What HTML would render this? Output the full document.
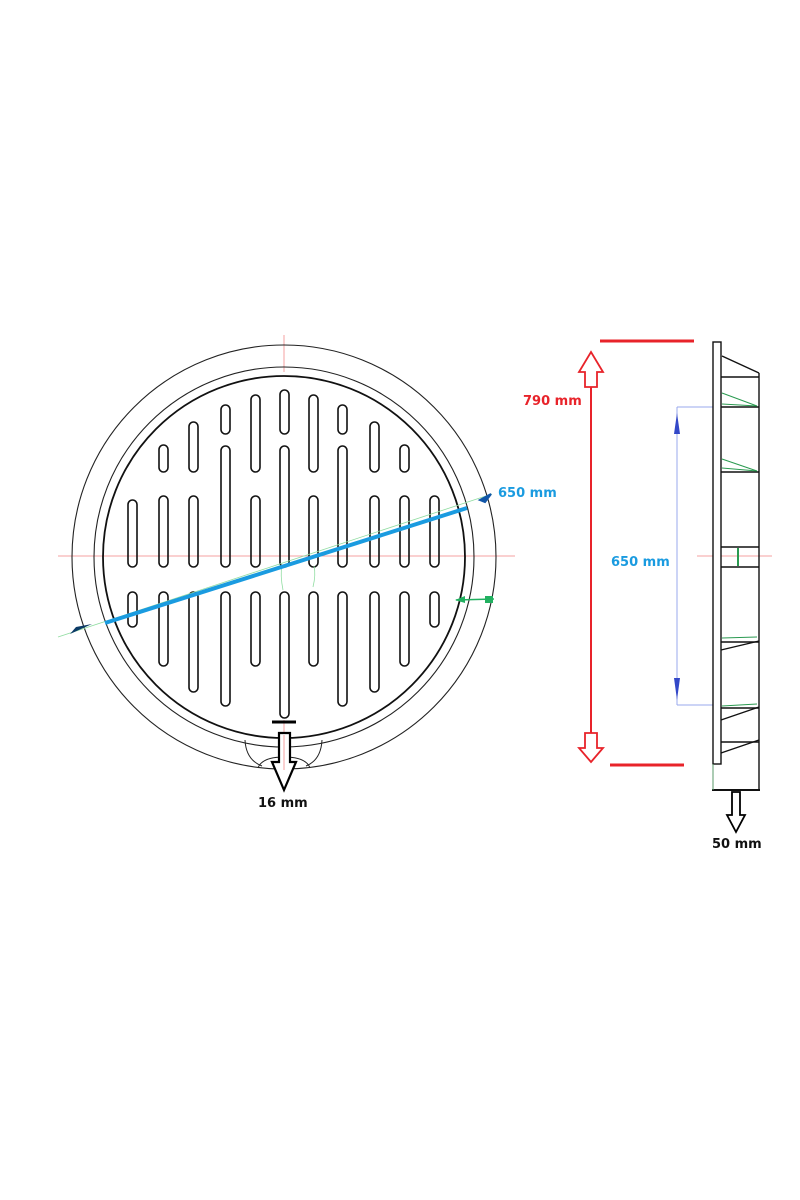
<!DOCTYPE html>
<html><head><meta charset="utf-8"><style>
html,body{margin:0;padding:0;background:#fff;}
svg{display:block;}
text{font-family:"DejaVu Sans","Liberation Sans",sans-serif;font-weight:bold;font-size:13px;}
</style></head><body>
<svg width="800" height="1200" viewBox="0 0 800 1200" xmlns="http://www.w3.org/2000/svg">
<!-- center lines -->
<line x1="58" y1="556" x2="515" y2="556" stroke="#f4a0a0" stroke-width="1"/>
<line x1="284" y1="335" x2="284" y2="372" stroke="#f4a0a0" stroke-width="1"/>
<line x1="284" y1="720" x2="284" y2="770" stroke="#f4a0a0" stroke-width="1"/>
<!-- circles -->
<circle cx="284" cy="557" r="212" fill="none" stroke="#222" stroke-width="1.1"/>
<circle cx="284" cy="557" r="190" fill="none" stroke="#222" stroke-width="1.1"/>
<circle cx="284" cy="557" r="181" fill="none" stroke="#111" stroke-width="1.8"/>
<!-- bottom notch -->
<path d="M245,740 Q246,760 262,766 M322,740 Q321,760 306,766" fill="none" stroke="#222" stroke-width="1"/>
<path d="M258,768 Q262,757 284,757 Q306,757 310,768" fill="none" stroke="#222" stroke-width="1"/>
<!-- slots -->
<g fill="none" stroke="#111" stroke-width="1.6">
<rect x="128" y="500" width="9" height="67" rx="4.5"/>
<rect x="128" y="592" width="9" height="35" rx="4.5"/>
<rect x="159" y="445" width="9" height="27" rx="4.5"/>
<rect x="159" y="496" width="9" height="71" rx="4.5"/>
<rect x="159" y="592" width="9" height="74" rx="4.5"/>
<rect x="189" y="422" width="9" height="50" rx="4.5"/>
<rect x="189" y="496" width="9" height="71" rx="4.5"/>
<rect x="189" y="592" width="9" height="100" rx="4.5"/>
<rect x="221" y="405" width="9" height="29" rx="4.5"/>
<rect x="221" y="446" width="9" height="121" rx="4.5"/>
<rect x="221" y="592" width="9" height="114" rx="4.5"/>
<rect x="251" y="395" width="9" height="77" rx="4.5"/>
<rect x="251" y="496" width="9" height="71" rx="4.5"/>
<rect x="251" y="592" width="9" height="74" rx="4.5"/>
<rect x="280" y="390" width="9" height="44" rx="4.5"/>
<rect x="280" y="446" width="9" height="121" rx="4.5"/>
<rect x="280" y="592" width="9" height="126" rx="4.5"/>
<rect x="309" y="395" width="9" height="77" rx="4.5"/>
<rect x="309" y="496" width="9" height="71" rx="4.5"/>
<rect x="309" y="592" width="9" height="74" rx="4.5"/>
<rect x="338" y="405" width="9" height="29" rx="4.5"/>
<rect x="338" y="446" width="9" height="121" rx="4.5"/>
<rect x="338" y="592" width="9" height="114" rx="4.5"/>
<rect x="370" y="422" width="9" height="50" rx="4.5"/>
<rect x="370" y="496" width="9" height="71" rx="4.5"/>
<rect x="370" y="592" width="9" height="100" rx="4.5"/>
<rect x="400" y="445" width="9" height="27" rx="4.5"/>
<rect x="400" y="496" width="9" height="71" rx="4.5"/>
<rect x="400" y="592" width="9" height="74" rx="4.5"/>
<rect x="430" y="496" width="9" height="71" rx="4.5"/>
<rect x="430" y="592" width="9" height="35" rx="4.5"/>
</g>
<!-- diameter dim -->
<line x1="58" y1="637" x2="492" y2="494" stroke="#8fdca0" stroke-width="0.8"/>
<path d="M283,590 Q280,575 282,565 M313,587 Q316,575 314,566" fill="none" stroke="#8fdca0" stroke-width="0.8"/>
<line x1="105" y1="623" x2="467" y2="508" stroke="#1a9be0" stroke-width="4"/>
<polygon points="70,634 92,624 76,627" fill="#0b3a66"/>
<polygon points="480,500 491,494 485,502" fill="#1156a8" stroke="#1156a8" stroke-width="2"/>
<text x="498" y="497" fill="#1a9be0">650 mm</text>
<!-- green small dim -->
<line x1="456" y1="600" x2="494" y2="599" stroke="#22b060" stroke-width="1.5"/>
<polygon points="455,600 465,596 465,603" fill="#22b060"/>
<rect x="485" y="596" width="8" height="7" fill="#22b060"/>
<!-- 16mm arrow -->
<line x1="272" y1="722" x2="296" y2="722" stroke="#000" stroke-width="3"/>
<polygon points="279,733 290,733 290,762 296,762 284,790 272,762 279,762" fill="#fff" stroke="#000" stroke-width="2.2"/>
<line x1="284" y1="735" x2="284" y2="770" stroke="#f4a0a0" stroke-width="1"/>
<text x="258" y="807" fill="#111">16 mm</text>

<!-- right side view -->
<line x1="600" y1="341" x2="694" y2="341" stroke="#e8232a" stroke-width="3"/>
<line x1="610" y1="765" x2="684" y2="765" stroke="#e8232a" stroke-width="3"/>
<line x1="591" y1="360" x2="591" y2="755" stroke="#e8232a" stroke-width="2"/>
<polygon points="591,352 603,372 597,372 597,387 585,387 585,372 579,372" fill="#fff" stroke="#e8232a" stroke-width="1.8"/>
<polygon points="591,762 603,748 597,748 597,733 585,733 585,748 579,748" fill="#fff" stroke="#e8232a" stroke-width="1.8"/>
<text x="523" y="405" fill="#e8232a">790 mm</text>
<!-- blue dim -->
<line x1="677" y1="407" x2="677" y2="705" stroke="#9aa8ec" stroke-width="1"/>
<line x1="677" y1="407" x2="713" y2="407" stroke="#9aa8ec" stroke-width="1"/>
<line x1="677" y1="705" x2="713" y2="705" stroke="#9aa8ec" stroke-width="1"/>
<polygon points="677,413 674,434 680,434" fill="#3348c8"/>
<polygon points="677,700 674,678 680,678" fill="#3348c8"/>
<text x="611" y="566" fill="#1a9be0">650 mm</text>
<line x1="697" y1="556" x2="772" y2="556" stroke="#f4a0a0" stroke-width="1"/>
<!-- body -->
<g stroke="#111" fill="none" stroke-width="1.4">
<rect x="713" y="342" width="8" height="422" fill="#fff"/>
<line x1="759" y1="373" x2="759" y2="790"/>
<line x1="722" y1="356" x2="759" y2="373"/>
<line x1="721" y1="377" x2="759" y2="377"/>
<line x1="721" y1="407" x2="759" y2="407"/>
<line x1="721" y1="472" x2="759" y2="472"/>
<line x1="721" y1="547" x2="759" y2="547"/>
<line x1="721" y1="567" x2="759" y2="567"/>
<line x1="721" y1="642" x2="759" y2="642"/>
<line x1="721" y1="708" x2="759" y2="708"/>
<line x1="721" y1="650" x2="759" y2="641"/>
<line x1="721" y1="720" x2="759" y2="707"/>
<line x1="721" y1="753" x2="759" y2="740"/>
<line x1="721" y1="742" x2="759" y2="742"/>
<line x1="712" y1="790" x2="760" y2="790" stroke-width="2"/>
</g>
<g stroke="#2a9a50" fill="none" stroke-width="1">
<line x1="722" y1="393" x2="757" y2="406"/>
<line x1="722" y1="404" x2="757" y2="406"/>
<line x1="722" y1="459" x2="757" y2="471"/>
<line x1="722" y1="468" x2="757" y2="471"/>
<line x1="738" y1="548" x2="738" y2="566" stroke-width="2"/>
<line x1="722" y1="638" x2="757" y2="637"/>
<line x1="722" y1="706" x2="757" y2="704"/>
<line x1="713" y1="764" x2="713" y2="790" stroke="#5a9a6a"/>
</g>
<polygon points="732,792 740,792 740,815 745,815 736,832 727,815 732,815" fill="#fff" stroke="#000" stroke-width="1.8"/>
<text x="712" y="848" fill="#111">50 mm</text>
</svg>
</body></html>
